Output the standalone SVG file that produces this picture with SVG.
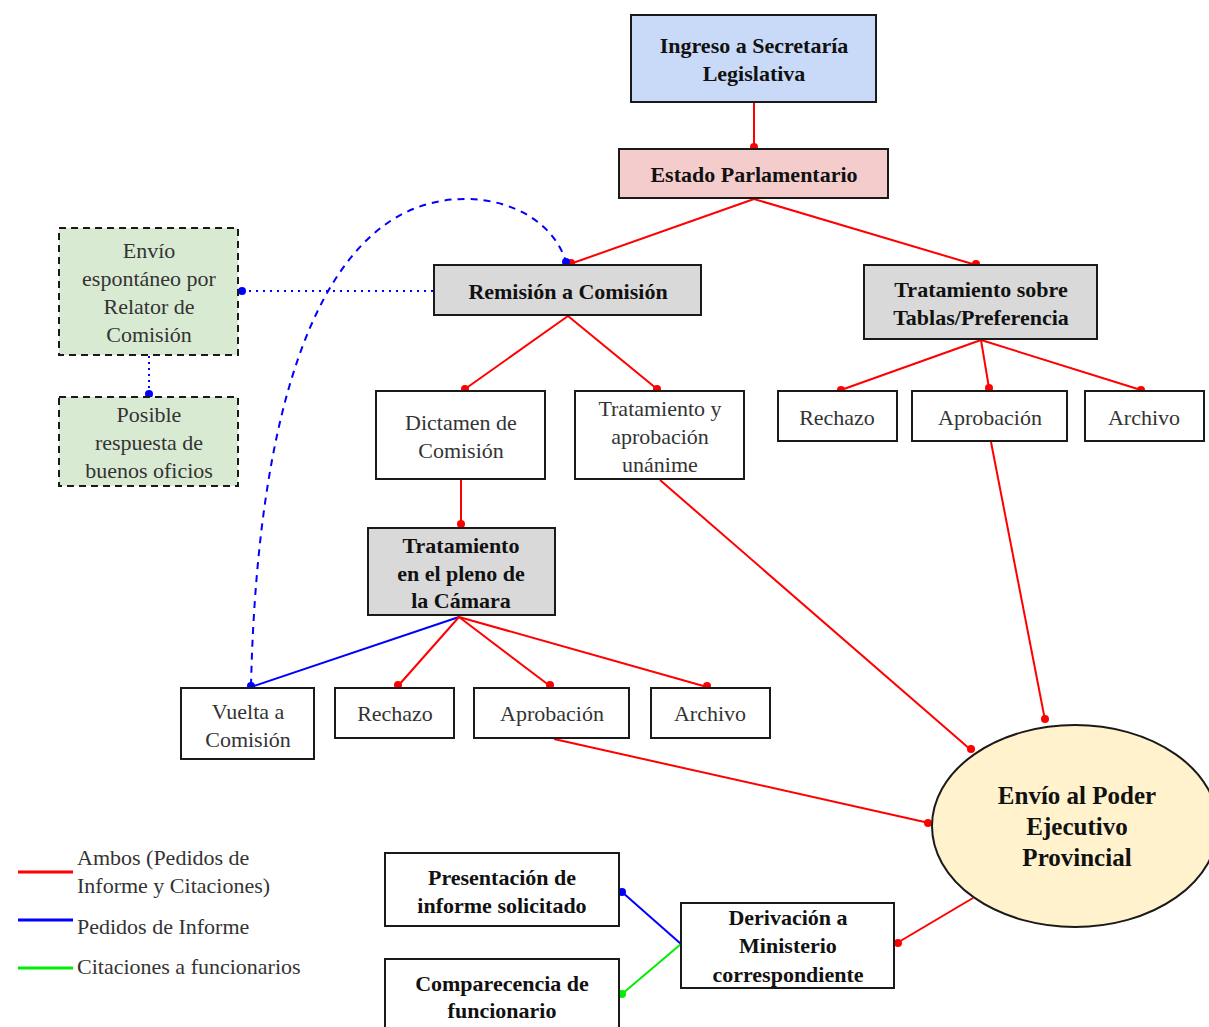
<svg xmlns="http://www.w3.org/2000/svg" width="1209" height="1027" viewBox="0 0 1209 1027" font-family="Liberation Serif, Times New Roman, serif">
<style>
.box{stroke:#1a1a1a;stroke-width:2;fill:#fff}
.grey{fill:#d9d9d9}
.blue{fill:#c9daf8}
.pink{fill:#f4cccc}
.green{fill:#d9ead3;stroke-dasharray:7 5}
text{font-size:22px;text-anchor:middle;fill:#333}
.b{font-weight:bold;fill:#111}
.r{stroke:#ff0000;stroke-width:2;fill:none}
.bl{stroke:#0000ff;stroke-width:2;fill:none}
.g{stroke:#00ee00;stroke-width:2;fill:none}
.dr{fill:#ff0000}
.db{fill:#0000ff}
.dg{fill:#00ee00}
</style>
<g id="connectors">
<path class="r" d="M754 102V148"/><circle class="dr" cx="754" cy="147" r="4"/>
<path class="r" d="M754 199L570 264"/><circle class="dr" cx="571" cy="263" r="4"/>
<path class="r" d="M754 199L976 265"/><circle class="dr" cx="976" cy="264" r="4"/>
<path class="r" d="M568 316L465 389"/><circle class="dr" cx="465" cy="389" r="4"/>
<path class="r" d="M568 316L657 389"/><circle class="dr" cx="657" cy="389" r="4"/>
<path class="r" d="M981 340L841 390"/><circle class="dr" cx="841" cy="390" r="4"/>
<path class="r" d="M981 340L989 388"/><circle class="dr" cx="989" cy="388" r="4"/>
<path class="r" d="M981 340L1141 390"/><circle class="dr" cx="1141" cy="390" r="4"/>
<path class="r" d="M461 480V526"/><circle class="dr" cx="461" cy="524" r="4"/>
<path class="bl" d="M459 617L251 687"/><circle class="db" cx="251" cy="686" r="4"/>
<path class="r" d="M459 617L398 686"/><circle class="dr" cx="398" cy="685" r="4"/>
<path class="r" d="M459 617L550 686"/><circle class="dr" cx="550" cy="685" r="4"/>
<path class="r" d="M459 617L707 687"/><circle class="dr" cx="707" cy="686" r="4"/>
<path class="r" d="M991 442L1045 720"/><circle class="dr" cx="1045" cy="719" r="4"/>
<path class="r" d="M660 480L971 750"/><circle class="dr" cx="971" cy="749" r="4"/>
<path class="r" d="M554 739L929 823"/><circle class="dr" cx="928" cy="823" r="4"/>
<path class="r" d="M973 898L897 943"/><circle class="dr" cx="898" cy="943" r="4"/>
<path class="bl" d="M681 944L622 892"/><circle class="db" cx="622" cy="892" r="4"/>
<path class="g" d="M681 944L622 994"/><circle class="dg" cx="622" cy="994" r="4"/>
<path class="bl" d="M433 291H242" stroke-dasharray="2 5"/><circle class="db" cx="242" cy="291" r="4"/>
<path class="bl" d="M149 356V394" stroke-dasharray="2 4"/><circle class="db" cx="149" cy="394" r="4"/>
<path class="bl" stroke-dasharray="7 6" d="M251 686C258 380 330 199 465 199C515 199 555 225 566 262"/><circle class="db" cx="566" cy="262" r="4"/>
</g>
<g id="n-ingreso"><rect class="box blue" x="631" y="15" width="245" height="87"/><text class="b" x="754" y="53">Ingreso a Secretaría</text><text class="b" x="754" y="81">Legislativa</text></g>
<g id="n-estado"><rect class="box pink" x="619" y="149" width="269" height="49"/><text class="b" x="754" y="182">Estado Parlamentario</text></g>
<g id="n-remision"><rect class="box grey" x="434" y="265" width="267" height="50"/><text class="b" x="568" y="299">Remisión a Comisión</text></g>
<g id="n-tablas"><rect class="box grey" x="864" y="265" width="233" height="74"/><text class="b" x="981" y="297">Tratamiento sobre</text><text class="b" x="981" y="325">Tablas/Preferencia</text></g>
<g id="n-rechazo2"><rect class="box" x="778" y="391" width="119" height="50"/><text x="837" y="425">Rechazo</text></g>
<g id="n-aprob2"><rect class="box" x="912" y="391" width="155" height="50"/><text x="990" y="425">Aprobación</text></g>
<g id="n-archivo2"><rect class="box" x="1085" y="391" width="119" height="50"/><text x="1144" y="425">Archivo</text></g>
<g id="n-dictamen"><rect class="box" x="376" y="391" width="169" height="88"/><text x="461" y="430">Dictamen de</text><text x="461" y="458">Comisión</text></g>
<g id="n-unanime"><rect class="box" x="575" y="391" width="169" height="88"/><text x="660" y="416">Tratamiento y</text><text x="660" y="444">aprobación</text><text x="660" y="472">unánime</text></g>
<g id="n-pleno"><rect class="box grey" x="368" y="528" width="187" height="87"/><text class="b" x="461" y="553">Tratamiento</text><text class="b" x="461" y="581">en el pleno de</text><text class="b" x="461" y="608">la Cámara</text></g>
<g id="n-vuelta"><rect class="box" x="181" y="688" width="133" height="71"/><text x="248" y="719">Vuelta a</text><text x="248" y="747">Comisión</text></g>
<g id="n-rechazo1"><rect class="box" x="335" y="688" width="119" height="50"/><text x="395" y="721">Rechazo</text></g>
<g id="n-aprob1"><rect class="box" x="474" y="688" width="155" height="50"/><text x="552" y="721">Aprobación</text></g>
<g id="n-archivo1"><rect class="box" x="651" y="688" width="119" height="50"/><text x="710" y="721">Archivo</text></g>
<g id="n-envio"><ellipse class="box" style="fill:#fff2cc" cx="1075" cy="826" rx="143" ry="101"/><text class="b" style="font-size:25px" x="1077" y="804">Envío al Poder</text><text class="b" style="font-size:25px" x="1077" y="835">Ejecutivo</text><text class="b" style="font-size:25px" x="1077" y="866">Provincial</text></g>
<g id="n-derivacion"><rect class="box" x="681" y="903" width="213" height="85"/><text class="b" x="788" y="925">Derivación a</text><text class="b" x="788" y="953">Ministerio</text><text class="b" x="788" y="982">correspondiente</text></g>
<g id="n-presentacion"><rect class="box" x="385" y="853" width="234" height="73"/><text class="b" x="502" y="885">Presentación de</text><text class="b" x="502" y="913">informe solicitado</text></g>
<g id="n-comparecencia"><rect class="box" x="385" y="959" width="234" height="80"/><text class="b" x="502" y="991">Comparecencia de</text><text class="b" x="502" y="1018">funcionario</text></g>
<g id="n-espontaneo"><rect class="box green" x="59" y="228" width="179" height="127"/><text x="149" y="258">Envío</text><text x="149" y="286">espontáneo por</text><text x="149" y="314">Relator de</text><text x="149" y="342">Comisión</text></g>
<g id="n-posible"><rect class="box green" x="59" y="397" width="179" height="89"/><text x="149" y="422">Posible</text><text x="149" y="450">respuesta de</text><text x="149" y="478">buenos oficios</text></g>
<g id="legend">
<path d="M18 872H73" stroke="#ff0000" stroke-width="3"/>
<path d="M18 920H73" stroke="#0000ff" stroke-width="3"/>
<path d="M18 968H73" stroke="#00ee00" stroke-width="3"/>
<text style="text-anchor:start" x="77" y="865">Ambos (Pedidos de</text>
<text style="text-anchor:start" x="77" y="893">Informe y Citaciones)</text>
<text style="text-anchor:start" x="77" y="934">Pedidos de Informe</text>
<text style="text-anchor:start" x="77" y="974">Citaciones a funcionarios</text>
</g>
</svg>
